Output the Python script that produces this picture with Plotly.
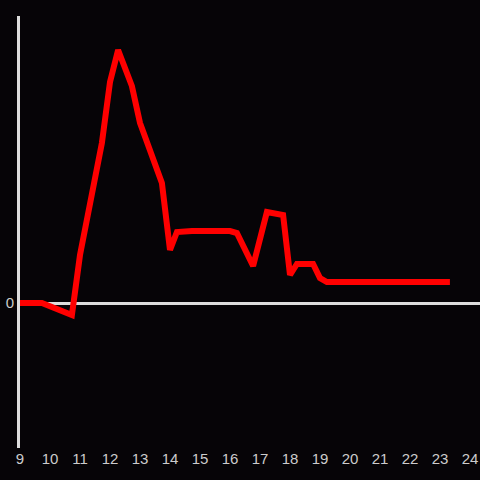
import plotly.graph_objects as go

hours = [9.0, 9.73, 10.73, 11.0, 11.73, 12.0, 12.27, 12.73, 13.0, 13.73, 14.0, 14.23,
         14.73, 16.0, 16.23, 16.77, 17.23, 17.77, 18.0, 18.23, 18.77, 19.0, 19.23, 23.33]
values = [0, 0, -12, 48, 160, 221, 253, 217, 180, 120, 53, 71,
          72, 72, 70, 37, 91, 88, 28, 39, 39, 25, 21, 21]
tick_vals = list(range(9, 25))
tick_text = [str(v) for v in tick_vals]

fig = go.Figure()
fig.add_trace(go.Scatter(x=hours, y=values, mode="lines",
                         line=dict(color="#ff0000", width=6)))
fig.update_layout(
    width=480, height=480,
    margin=dict(l=20, r=0, t=16, b=32, autoexpand=False),
    paper_bgcolor="#060407", plot_bgcolor="#060407",
    showlegend=False,
    xaxis=dict(range=[9, 24.333], tickvals=tick_vals, ticktext=tick_text,
               showgrid=False, zeroline=False, showline=False, automargin=False,
               tickfont=dict(color="#cccccc", size=15, family="Liberation Sans")),
    yaxis=dict(range=[-145, 287], tickvals=[0], ticktext=["0"], automargin=False,
               showgrid=False, zeroline=True, zerolinecolor="#dddddd", zerolinewidth=3,
               showline=True, linecolor="#dddddd", linewidth=3, ticklabelstandoff=0,
               tickfont=dict(color="#cccccc", size=15, family="Liberation Sans")),
)
fig.write_html("out.html", config={"displayModeBar": False},
               post_script="document.body.style.margin='0';document.body.style.padding='0';document.body.style.background='#060407';")
